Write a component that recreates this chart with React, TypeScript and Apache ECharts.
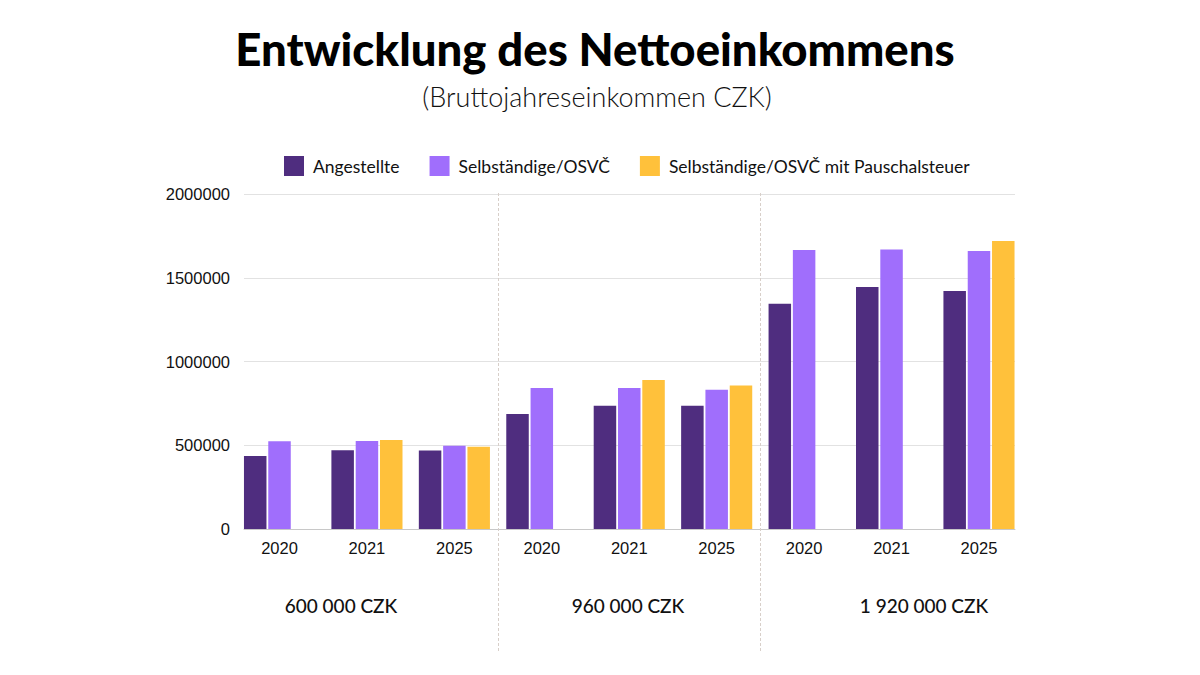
import React, { useEffect, useRef } from "react";
import * as echarts from "echarts";

// Years shown under every income band
const categories = ["2020", "2021", "2025", "2020", "2021", "2025", "2020", "2021", "2025"];

// Gross yearly income bands, one per group of three years
const incomeBands = ["600 000 CZK", "960 000 CZK", "1 920 000 CZK"];

// Net yearly income (CZK)
const angestellte = [436000, 470000, 468000, 687000, 736000, 736000, 1345000, 1445000, 1421000];
const selbstaendige = [524000, 525000, 497000, 842000, 842000, 832000, 1666000, 1668000, 1660000];
const pauschalsteuer = [null, 531000, 491000, null, 890000, 856000, null, null, 1719000];

const seriesNames = ["Angestellte", "Selbständige/OSVČ", "Selbständige/OSVČ mit Pauschalsteuer"];
const seriesColors = ["#4f2d7f", "#a06efc", "#ffc13b"];

const yTicks = { min: 0, max: 2000000, interval: 500000 };

const GEO_FONT = "Lato, 'Noto Sans', sans-serif";
const AXIS_FONT = "'Liberation Sans', Arial, sans-serif";

export default function App() {
  const ref = useRef<HTMLDivElement>(null);

  useEffect(() => {
    if (!ref.current) return;
    const chart = echarts.init(ref.current, null, { renderer: "svg" });

    const plotTop = 194;
    const plotBottom = 146;

    const bar = (name: string, data: (number | null)[], color: string) => ({
      name,
      type: "bar",
      xAxisIndex: 0,
      yAxisIndex: 0,
      data,
      barWidth: 22.5,
      barGap: "8%",
      itemStyle: { color },
      emphasis: { disabled: true },
    });

    chart.setOption({
      animation: false,
      legend: {
        top: 156,
        left: 284,
        padding: 0,
        itemWidth: 20,
        itemHeight: 20,
        itemGap: 30,
        icon: "rect",
        textStyle: { fontFamily: GEO_FONT, fontSize: 17.5, color: "#111", padding: [0, 0, 0, 4] },
        data: seriesNames,
      },
      grid: [
        // bars
        { left: 235.8, right: 177.3, top: plotTop, bottom: plotBottom },
        // gridlines and baseline
        { left: 244, right: 185, top: plotTop, bottom: plotBottom },
      ],
      xAxis: [
        {
          type: "category",
          gridIndex: 0,
          data: categories,
          axisLine: { show: false },
          axisTick: { show: false },
          axisLabel: { fontFamily: AXIS_FONT, fontSize: 16.5, color: "#111", margin: 10, interval: 0 },
        },
        {
          type: "value",
          gridIndex: 1,
          min: 0,
          max: 1,
          axisLine: { show: true, lineStyle: { color: "#c8c8c8", width: 1 } },
          axisTick: { show: false },
          axisLabel: { show: false },
          splitLine: { show: false },
        },
      ],
      yAxis: [
        {
          type: "value",
          gridIndex: 0,
          ...yTicks,
          axisLabel: { show: false },
          axisLine: { show: false },
          axisTick: { show: false },
          splitLine: { show: false },
        },
        {
          type: "value",
          gridIndex: 1,
          ...yTicks,
          axisLabel: {
            fontFamily: AXIS_FONT,
            fontSize: 16.5,
            color: "#111",
            margin: 14,
            formatter: (v: number) => String(v),
          },
          axisLine: { show: false },
          axisTick: { show: false },
          splitLine: { show: true, lineStyle: { color: "#e2e2e2", width: 1 } },
        },
      ],
      series: [
        bar(seriesNames[0], angestellte, seriesColors[0]),
        bar(seriesNames[1], selbstaendige, seriesColors[1]),
        bar(seriesNames[2], pauschalsteuer, seriesColors[2]),
      ],
    });

    // Dividers between the income bands, placed between category slots
    const px = (i: number) => chart.convertToPixel({ xAxisIndex: 0 }, i) as number;
    const dividers = [2, 5].map((i) => {
      const x = Math.round((px(i) + px(i + 1)) / 2) + 0.5;
      return {
        type: "line",
        shape: { x1: x, y1: 193, x2: x, y2: 652 },
        style: { stroke: "#d8cfc9", lineWidth: 1, lineDash: [3, 2] },
        z: 1,
      };
    });

    const bandLabelX = [341, 628, 924];
    const bandLabels = incomeBands.map((t, i) => ({
      type: "text",
      x: bandLabelX[i],
      y: 605,
      style: {
        text: t,
        fontFamily: GEO_FONT,
        fontSize: 19,
        fontWeight: 500,
        fill: "#111",
        textAlign: "center",
        textVerticalAlign: "middle",
      },
    }));

    chart.setOption({
      graphic: [
        {
          type: "text",
          x: 595,
          y: 48,
          style: {
            text: "Entwicklung des Nettoeinkommens",
            fontFamily: GEO_FONT,
            fontSize: 45.5,
            fontWeight: 900,
            fill: "#000",
            textAlign: "center",
            textVerticalAlign: "middle",
          },
        },
        {
          type: "text",
          x: 597,
          y: 96,
          style: {
            text: "(Bruttojahreseinkommen CZK)",
            fontFamily: GEO_FONT,
            fontSize: 27,
            fontWeight: 300,
            fill: "#111",
            textAlign: "center",
            textVerticalAlign: "middle",
          },
        },
        ...dividers,
        ...bandLabels,
      ],
    });

    return () => chart.dispose();
  }, []);

  return (
    <div
      ref={ref}
      style={{ position: "absolute", left: 0, top: 0, width: 1200, height: 675, background: "#fff" }}
    />
  );
}
